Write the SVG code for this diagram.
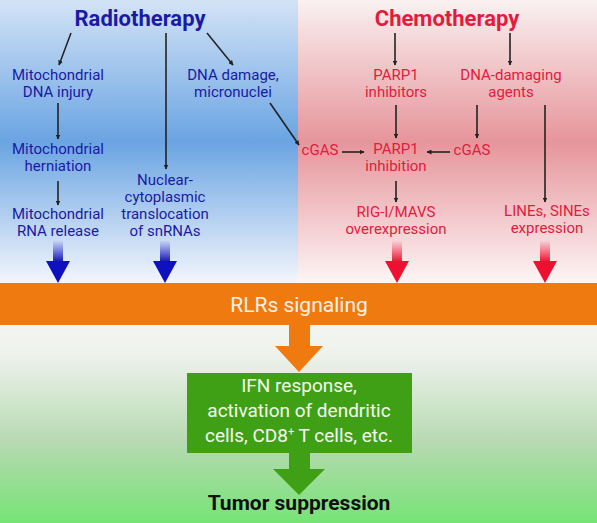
<svg xmlns="http://www.w3.org/2000/svg" width="597" height="523" viewBox="0 0 597 523">
<defs>
<linearGradient id="bgL" x1="0" y1="0" x2="0" y2="1">
<stop offset="0" stop-color="#d3e3f6"/>
<stop offset="0.5" stop-color="#6aa4e2"/>
<stop offset="1" stop-color="#f3f6fc"/>
</linearGradient>
<linearGradient id="bgR" x1="0" y1="0" x2="0" y2="1">
<stop offset="0" stop-color="#faf1f1"/>
<stop offset="0.5" stop-color="#e6959b"/>
<stop offset="1" stop-color="#fdf5f5"/>
</linearGradient>
<linearGradient id="bgB" x1="0" y1="0" x2="0" y2="1">
<stop offset="0" stop-color="#f2f4f0"/>
<stop offset="0.15" stop-color="#eef2ec"/>
<stop offset="0.6" stop-color="#b6d9b1"/>
<stop offset="1" stop-color="#75e474"/>
</linearGradient>
<linearGradient id="fadeB" x1="0" y1="0" x2="0" y2="1">
<stop offset="0" stop-color="#1010c0" stop-opacity="0"/>
<stop offset="1" stop-color="#1010c0"/>
</linearGradient>
<linearGradient id="fadeR" x1="0" y1="0" x2="0" y2="1">
<stop offset="0" stop-color="#ee1030" stop-opacity="0"/>
<stop offset="1" stop-color="#ee1030"/>
</linearGradient>
<marker id="ah" viewBox="0 0 10 10" refX="9" refY="5" markerWidth="5" markerHeight="5" orient="auto" markerUnits="userSpaceOnUse">
<path d="M0,0 L10,5 L0,10 z" fill="#222"/>
</marker>
</defs>
<style>
text{font-family:Roboto,"Liberation Sans",sans-serif;text-anchor:middle}
.t{font-size:15px}
.b{fill:#1a1aa6}
.r{fill:#e31b3c}
.title{font-size:22px;font-weight:bold}
.ln{stroke:#222;stroke-width:1.6;fill:none;marker-end:url(#ah)}
</style>
<rect x="0" y="0" width="298" height="283" fill="url(#bgL)"/>
<rect x="298" y="0" width="299" height="283" fill="url(#bgR)"/>
<rect x="0" y="325" width="597" height="198" fill="url(#bgB)"/>

<g id="connectors">
<line class="ln" x1="71" y1="33" x2="59" y2="65"/>
<line class="ln" x1="166" y1="33" x2="166" y2="169"/>
<line class="ln" x1="207" y1="33" x2="233" y2="65"/>
<line class="ln" x1="58" y1="103" x2="58" y2="139"/>
<line class="ln" x1="58" y1="181" x2="58" y2="205"/>
<line class="ln" x1="270" y1="103" x2="299" y2="145"/>
<line class="ln" x1="395" y1="33" x2="395" y2="65"/>
<line class="ln" x1="510" y1="33" x2="510" y2="65"/>
<line class="ln" x1="396" y1="105" x2="396" y2="138"/>
<line class="ln" x1="477" y1="105" x2="477" y2="138"/>
<line class="ln" x1="545" y1="105" x2="545" y2="202"/>
<line class="ln" x1="342" y1="152" x2="364" y2="152"/>
<line class="ln" x1="450" y1="152" x2="427" y2="152"/>
<line class="ln" x1="396" y1="181" x2="396" y2="202"/>
<rect x="53" y="240" width="10" height="22" fill="url(#fadeB)"/>
<path d="M46,261 L70,261 L58,283 z" fill="#1010c0"/>
<rect x="160" y="240" width="10" height="22" fill="url(#fadeB)"/>
<path d="M153,261 L177,261 L165,283 z" fill="#1010c0"/>
<rect x="392" y="240" width="10" height="22" fill="url(#fadeR)"/>
<path d="M385,261 L409,261 L397,283 z" fill="#ee1030"/>
<rect x="540" y="240" width="10" height="22" fill="url(#fadeR)"/>
<path d="M533,261 L557,261 L545,283 z" fill="#ee1030"/>
<path d="M289,325 L310,325 L310,346 L323,346 L299,372 L275,346 L289,346 z" fill="#ef7b10"/>
<path d="M289,452 L310,452 L310,469 L325,469 L299,495 L273,469 L289,469 z" fill="#40a015"/>
</g>

<g id="radiotherapy"><text class="title b" x="140" y="26">Radiotherapy</text></g>
<g id="chemotherapy"><text class="title r" x="447" y="26">Chemotherapy</text></g>
<g id="mt-dna-injury"><text class="t b" x="58" y="80">Mitochondrial</text><text class="t b" x="58" y="97">DNA injury</text></g>
<g id="dna-damage"><text class="t b" x="233" y="80">DNA damage,</text><text class="t b" x="233" y="97">micronuclei</text></g>
<g id="mt-herniation"><text class="t b" x="58" y="154">Mitochondrial</text><text class="t b" x="58" y="171">herniation</text></g>
<g id="mt-rna-release"><text class="t b" x="58" y="219">Mitochondrial</text><text class="t b" x="58" y="236">RNA release</text></g>
<g id="snrna-translocation"><text class="t b" x="165" y="185">Nuclear-</text><text class="t b" x="165" y="202">cytoplasmic</text><text class="t b" x="165" y="219">translocation</text><text class="t b" x="165" y="236">of snRNAs</text></g>
<g id="parp1-inhibitors"><text class="t r" x="396" y="80">PARP1</text><text class="t r" x="396" y="97">inhibitors</text></g>
<g id="dna-damaging-agents"><text class="t r" x="511" y="80">DNA-damaging</text><text class="t r" x="511" y="97">agents</text></g>
<g id="cgas-left"><text class="t r" x="320" y="155">cGAS</text></g>
<g id="parp1-inhibition"><text class="t r" x="396" y="154">PARP1</text><text class="t r" x="396" y="171">inhibition</text></g>
<g id="cgas-right"><text class="t r" x="472" y="155">cGAS</text></g>
<g id="rig-i-mavs"><text class="t r" x="396" y="217">RIG-I/MAVS</text><text class="t r" x="396" y="234">overexpression</text></g>
<g id="lines-sines"><text class="t r" x="547" y="216">LINEs, SINEs</text><text class="t r" x="547" y="233">expression</text></g>
<g id="rlrs-signaling"><rect x="0" y="283" width="597" height="42" fill="#ef7b10"/><text x="299" y="312" font-size="21" fill="#fdf2e6">RLRs signaling</text></g>
<g id="ifn-response"><rect x="187" y="373" width="225" height="80" fill="#40a015"/>
<text x="299" y="392" font-size="19" fill="#f4fbef">IFN response,</text>
<text x="299" y="417" font-size="19" fill="#f4fbef">activation of dendritic</text>
<text x="299" y="442" font-size="19" fill="#f4fbef">cells, CD8<tspan dy="-7" font-size="11">+</tspan><tspan dy="7"> T cells, etc.</tspan></text></g>
<g id="tumor-suppression"><text x="299" y="510" font-size="21" font-weight="bold" fill="#111">Tumor suppression</text></g>
</svg>
